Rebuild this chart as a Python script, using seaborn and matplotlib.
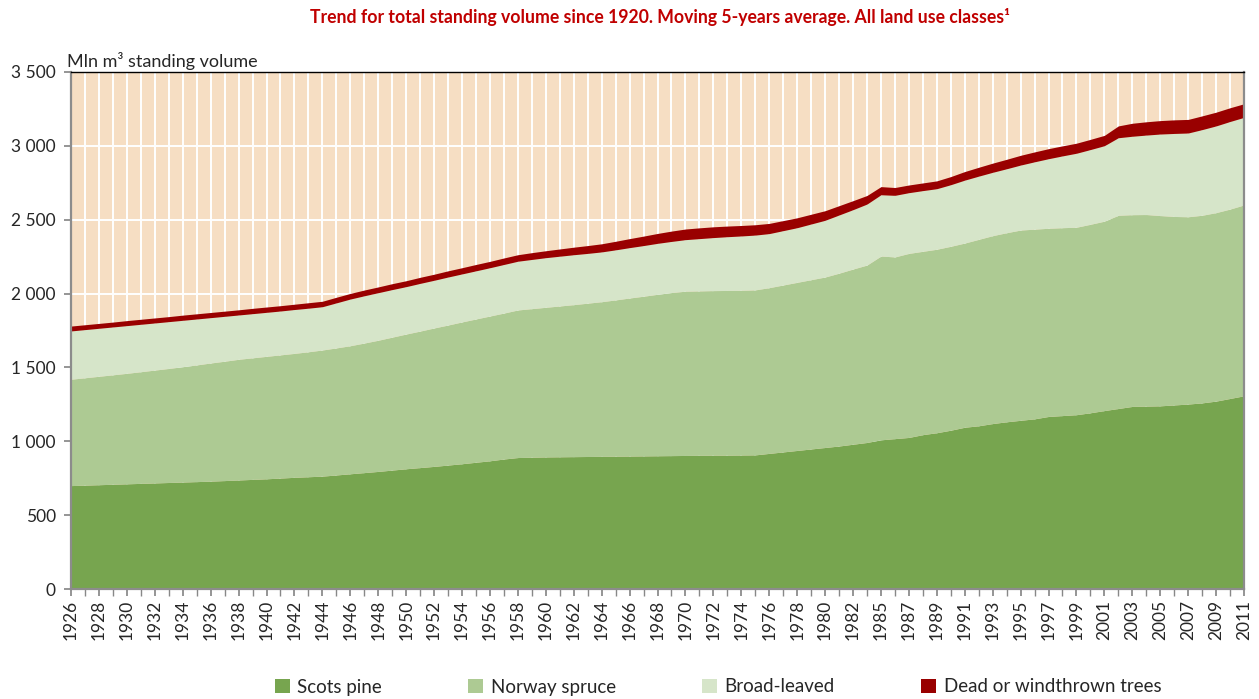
import numpy as np
import pandas as pd
import matplotlib
matplotlib.use("Agg")
import matplotlib.pyplot as plt
from matplotlib.patches import Patch
from matplotlib.ticker import FuncFormatter, FixedLocator
import seaborn as sns

years = list(range(1926, 1984)) + list(range(1985, 2012))

scots_pine = [700, 703, 706, 709, 712, 715, 718, 721, 724, 727,
              730, 734, 738, 742, 746, 751, 756, 760, 764, 772,
              780, 788, 796, 805, 814, 822, 830, 839, 848, 858,
              868, 880, 890, 892, 894, 895, 896, 897, 898, 899,
              900, 901, 902, 903, 904, 905, 906, 906, 907, 908,
              918, 928, 938, 948, 958, 968, 980, 992, 1010, 1018,
              1026, 1045, 1058, 1075, 1095, 1105, 1120, 1132, 1142, 1152,
              1168, 1174, 1180, 1193, 1208, 1222, 1236, 1238, 1240, 1246,
              1252, 1260, 1272, 1290, 1308]

norway_spruce = [720, 727, 734, 741, 748, 756, 764, 772, 781, 790,
                 800, 808, 817, 823, 829, 834, 839, 846, 854, 860,
                 867, 877, 888, 900, 912, 924, 937, 948, 960, 970,
                 980, 988, 999, 1006, 1013, 1021, 1029, 1038, 1047, 1058,
                 1070, 1081, 1093, 1104, 1112, 1113, 1114, 1115, 1115, 1117,
                 1122, 1130, 1138, 1146, 1154, 1170, 1186, 1201, 1244, 1230,
                 1246, 1241, 1242, 1245, 1247, 1262, 1272, 1280, 1288, 1284,
                 1274, 1272, 1269, 1276, 1282, 1308, 1298, 1297, 1288, 1276,
                 1268, 1270, 1276, 1282, 1292]

broad_leaved = [327, 326, 325, 324, 323, 321, 319, 317, 314, 311,
                307, 304, 300, 299, 298, 297, 297, 295, 293, 305,
                316, 320, 322, 322, 321, 323, 323, 325, 325, 326,
                327, 329, 330, 333, 336, 337, 338, 337, 337, 339,
                341, 343, 345, 346, 349, 354, 359, 364, 368, 371,
                366, 368, 370, 377, 384, 394, 402, 413, 415, 417,
                411, 411, 410, 417, 426, 428, 429, 433, 440, 456,
                471, 486, 501, 506, 511, 525, 531, 538, 552, 562,
                567, 580, 587, 593, 593]

dead_windthrown = [33, 33, 33, 33, 34, 34, 34, 34, 35, 35,
                   35, 35, 35, 36, 36, 36, 36, 37, 37, 38,
                   38, 39, 39, 40, 40, 41, 41, 42, 42, 43,
                   43, 44, 44, 46, 47, 49, 51, 53, 55, 58,
                   61, 64, 67, 70, 72, 73, 73, 72, 71, 70,
                   69, 68, 67, 66, 65, 63, 61, 58, 55, 53,
                   52, 52, 53, 55, 58, 60, 62, 64, 66, 67,
                   68, 68, 68, 69, 70, 80, 88, 90, 91, 92,
                   92, 93, 93, 93, 92]

series_names = ["Scots pine", "Norway spruce", "Broad-leaved", "Dead or windthrown trees"]
series_colors = ["#77A54F", "#ADCA93", "#D6E5C9", "#990000"]

title = "Trend for total standing volume since 1920. Moving 5-years average. All land use classes\u00b9"
ylabel = "Mln m\u00b3 standing volume"

df = pd.DataFrame({"year": years,
                   "Scots pine": scots_pine,
                   "Norway spruce": norway_spruce,
                   "Broad-leaved": broad_leaved,
                   "Dead or windthrown trees": dead_windthrown})

sns.set_theme(style="white")
plt.rcParams["font.family"] = ["Lato", "DejaVu Sans"]

fig = plt.figure(figsize=(12.59, 6.99), dpi=100)
ax = fig.add_axes([71 / 1259, 1 - 589 / 699, (1244 - 71) / 1259, (589 - 72) / 699])

pos = np.arange(len(df))
ax.set_facecolor("#F6DEC3")
ax.stackplot(pos, [df[n].values for n in series_names], colors=series_colors,
             linewidth=0, zorder=3)

ax.set_xlim(0, len(df) - 1)
ax.set_ylim(0, 3500)

# grid
ax.set_axisbelow(True)
for p in pos:
    ax.axvline(p, color="white", lw=1.4, zorder=1)
for v in range(500, 3500, 500):
    ax.axhline(v, color="white", lw=1.4, zorder=1)

# ticks
ax.xaxis.set_major_locator(FixedLocator(pos[::2]))
ax.set_xticklabels([str(y) for y in years[::2]], rotation=90, fontsize=12.5)
ax.xaxis.set_minor_locator(FixedLocator(pos))
ax.tick_params(axis="x", which="both", direction="out", length=5, color="#888888",
               bottom=True, pad=3)
ax.set_yticks(range(0, 3501, 500))
ax.yaxis.set_major_formatter(FuncFormatter(lambda v, _: f"{int(v):,}".replace(",", " ")))
ax.tick_params(axis="y", direction="out", length=5, color="#888888", left=True,
               labelsize=12.5, pad=6)

for s in ["left", "bottom", "right"]:
    ax.spines[s].set_color("#8C8C8C")
    ax.spines[s].set_linewidth(1.6)
ax.spines["top"].set_color("black")
ax.spines["top"].set_linewidth(1.0)
for s in ax.spines.values():
    s.set_zorder(5)

fig.text(660 / 1259, 1 - 17 / 699, title, ha="center", va="center",
         color="#C00000", fontsize=12.7, fontweight="bold")
fig.text(67 / 1259, 1 - 61 / 699, ylabel, ha="left", va="center", fontsize=13)

handles = [Patch(facecolor=c, edgecolor="none", label=n) for n, c in zip(series_names, series_colors)]
fig.legend(handles=handles, loc="center", bbox_to_anchor=(718 / 1259, 1 - 687 / 699),
           ncol=4, frameon=False, fontsize=13.5, handlelength=0.8, handleheight=0.8,
           handletextpad=0.4, columnspacing=4.6)

fig.savefig("out.png", dpi=100)
